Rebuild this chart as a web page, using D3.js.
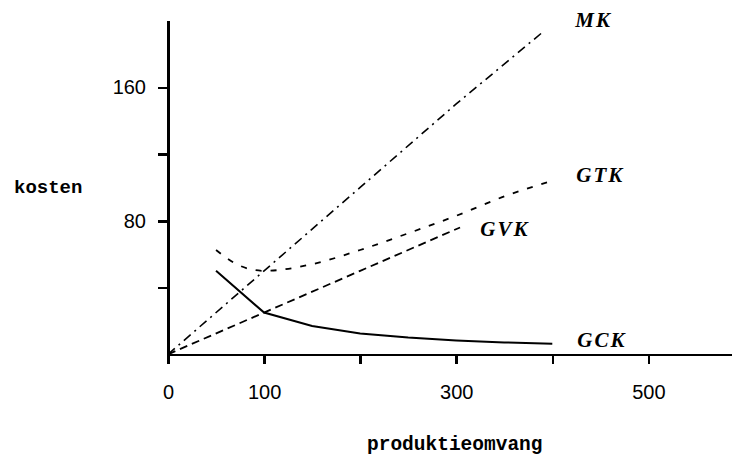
<!DOCTYPE html>
<html>
<head>
<meta charset="utf-8">
<script src="https://cdn.jsdelivr.net/npm/d3@7"></script>
<style>
  html, body { margin: 0; padding: 0; background: #fff; }
  svg { display: block; }
</style>
</head>
<body>
<svg id="chart" width="732" height="461"></svg>
<script>
// Kostencurven: marginale kosten (MK), gemiddelde totale (GTK),
// gemiddelde variabele (GVK) en gemiddelde constante kosten (GCK).
const mkQ  = [0, 100, 200, 300, 392];
const mkV  = [0, 50, 100, 150, 194];

const gvkQ = [0, 100, 200, 304];
const gvkV = [0, 25, 50, 76];

const gckQ = [50, 100, 150, 200, 250, 300, 350, 400];
const gckV = [50, 25, 17, 12.5, 10, 8.3, 7.1, 6.3];

const gtkQ = [50, 75, 100, 150, 200, 250, 300, 350, 400];
const gtkV = [62.5, 53, 50, 54, 62.5, 72.5, 83, 94.6, 104];

const xTicks  = [0, 100, 200, 300, 400, 500];
const xLabels = [0, 100, 300, 500];
const yTicks  = [40, 80, 120, 160];
const yLabels = [80, 160];

const svg = d3.select("#chart");

const x = d3.scaleLinear().domain([0, 586]).range([168, 731]);
const y = d3.scaleLinear().domain([0, 200]).range([354.3, 20.5]);

const zip = (qs, vs) => qs.map((q, i) => ({ q, v: vs[i] }));
const line = d3.line().x(d => x(d.q)).y(d => y(d.v));
const smooth = d3.line().x(d => x(d.q)).y(d => y(d.v)).curve(d3.curveMonotoneX);

// axes
const xAxis = d3.axisBottom(x)
  .tickValues(xTicks)
  .tickSize(10)
  .tickSizeOuter(0)
  .tickPadding(21)
  .tickFormat(d => xLabels.includes(d) ? d : "");

const yAxis = d3.axisLeft(y)
  .tickValues(yTicks)
  .tickSize(10)
  .tickSizeOuter(0)
  .tickPadding(12)
  .tickFormat(d => yLabels.includes(d) ? d : "");

const gx = svg.append("g").attr("transform", `translate(0,${y(0)})`).call(xAxis);
const gy = svg.append("g").attr("transform", `translate(${x(0)},0)`).call(yAxis);

[gx, gy].forEach(g => {
  g.select(".domain").attr("stroke", "#000").attr("stroke-width", 2.5)
    .attr("shape-rendering", "crispEdges");
  g.selectAll(".tick line").attr("stroke", "#000").attr("stroke-width", 2.5)
    .attr("shape-rendering", "crispEdges");
  g.selectAll(".tick text")
    .attr("fill", "#000")
    .style("font-family", "'Liberation Sans', Arial, sans-serif")
    .style("font-size", "20px");
});

// curves
const curves = svg.append("g").attr("fill", "none").attr("stroke", "#000");

curves.append("path")
  .attr("d", line(zip(mkQ, mkV)))
  .attr("stroke-width", 1.6)
  .attr("stroke-dasharray", "9,5,2,5");

curves.append("path")
  .attr("d", line(zip(gvkQ, gvkV)))
  .attr("stroke-width", 1.8)
  .attr("stroke-dasharray", "8,5");

curves.append("path")
  .attr("d", smooth(zip(gtkQ, gtkV)))
  .attr("stroke-width", 1.8)
  .attr("stroke-dasharray", "6,9");

curves.append("path")
  .attr("d", line(zip(gckQ, gckV)))
  .attr("stroke-width", 2);

// curve names
const names = [
  { t: "MK",  q: 424, v: 196 },
  { t: "GTK", q: 425, v: 103 },
  { t: "GVK", q: 325, v: 71 },
  { t: "GCK", q: 426, v: 4.5 }
];
svg.append("g").selectAll("text").data(names).join("text")
  .attr("x", d => x(d.q))
  .attr("y", d => y(d.v))
  .attr("fill", "#000")
  .style("font-family", "'Liberation Serif', 'Times New Roman', serif")
  .style("font-style", "italic")
  .style("font-weight", "bold")
  .style("font-size", "21px")
  .style("letter-spacing", "2px")
  .text(d => d.t);

// axis titles
const mono = "'Liberation Mono', 'Courier New', monospace";
svg.append("text")
  .attr("x", 14).attr("y", 193)
  .attr("fill", "#000")
  .style("font-family", mono).style("font-weight", "bold").style("font-size", "19px")
  .text("kosten");

svg.append("text")
  .attr("x", 367).attr("y", 450)
  .attr("fill", "#000")
  .style("font-family", mono).style("font-weight", "bold").style("font-size", "19.5px")
  .text("produktieomvang");
</script>
</body>
</html>
